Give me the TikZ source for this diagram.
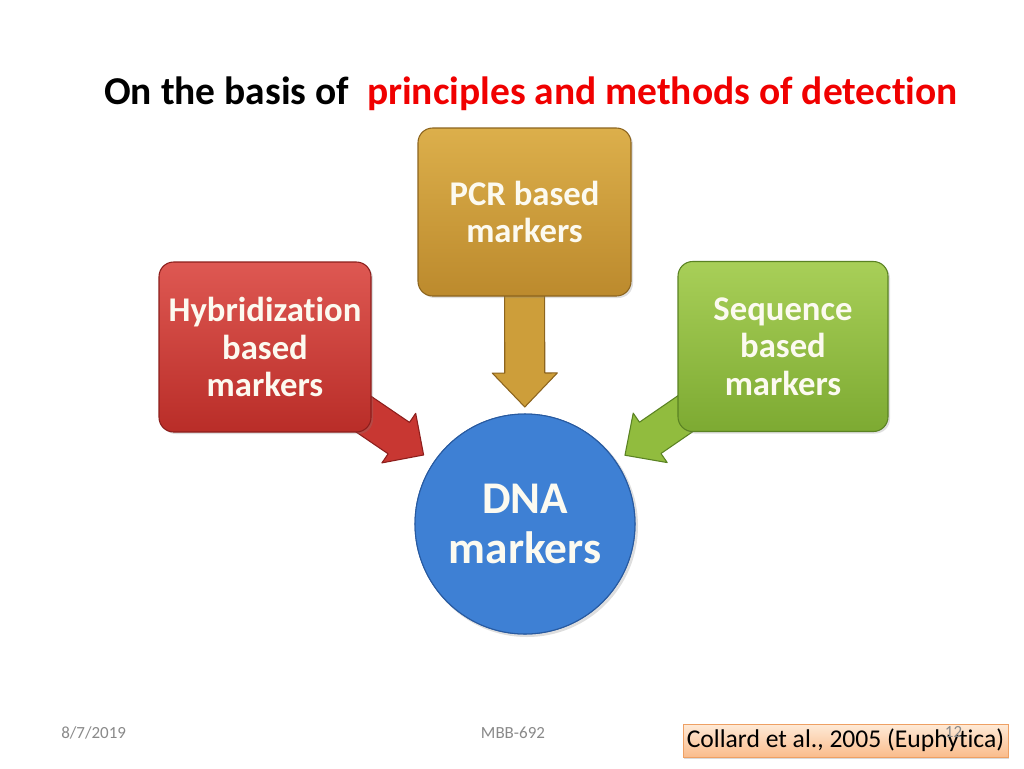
\documentclass[tikz,border=0pt]{standalone}
\usepackage{fontspec}
\setmainfont{Carlito}[Ligatures=NoCommon]
\usetikzlibrary{calc,backgrounds,shadows}
\definecolor{redT}{RGB}{222,88,82}
\definecolor{redB}{RGB}{185,45,40}
\definecolor{redD}{RGB}{140,30,28}
\definecolor{redA}{RGB}{200,55,50}
\definecolor{goldT}{RGB}{220,175,75}
\definecolor{goldB}{RGB}{188,138,45}
\definecolor{goldD}{RGB}{140,100,30}
\definecolor{goldA}{RGB}{205,158,58}
\definecolor{grnT}{RGB}{168,207,88}
\definecolor{grnB}{RGB}{125,170,50}
\definecolor{grnD}{RGB}{90,130,35}
\definecolor{grnA}{RGB}{145,188,62}
\definecolor{bluM}{RGB}{62,128,212}
\definecolor{bluD}{RGB}{40,90,160}
\definecolor{txtW}{RGB}{252,250,240}
\definecolor{footG}{RGB}{137,137,137}
\definecolor{citeT}{RGB}{254,234,215}
\definecolor{citeB}{RGB}{250,188,140}
\definecolor{citeD}{RGB}{238,160,100}
\definecolor{titleR}{RGB}{240,0,0}
\definecolor{shadowG}{RGB}{200,200,200}
% #1 start, #2 tip, #3 head-base name, #4 shaft half width, #5 head half width, #6 head length, #7 fill, #8 border
\newcommand\blockarr[8]{%
  \coordinate (#3) at ($(#2)!#6!(#1)$);
  \draw[fill=#7, draw=#8, line width=0.8pt, line join=round]
    ($(#1)!#4!90:(#2)$) -- ($(#3)!#4!90:(#2)$) -- ($(#3)!#5!90:(#2)$) -- (#2)
    -- ($(#3)!#5!-90:(#2)$) -- ($(#3)!#4!-90:(#2)$) -- ($(#1)!#4!-90:(#2)$) -- cycle;}
\tikzset{
  box/.style={rectangle, rounded corners=11pt, minimum width=159pt, minimum height=127.5pt,
    align=center, text=txtW, font=\fontsize{26}{28}\selectfont\bfseries, line width=0.8pt,
    inner sep=0pt, drop shadow={opacity=0.25, shadow xshift=1.5pt, shadow yshift=-1.5pt}},
  redbox/.style={box, top color=redT, bottom color=redB, draw=redD},
  goldbox/.style={box, top color=goldT, bottom color=goldB, draw=goldD},
  grnbox/.style={box, top color=grnT, bottom color=grnB, draw=grnD},
  dnacirc/.style={circle, minimum size=165pt, inner sep=0pt, align=center, text=txtW,
    fill=bluM, draw=bluD, line width=0.8pt,
    font=\fontsize{34}{37.5}\selectfont\bfseries},
  foot/.style={inner sep=0pt, text=footG, font=\fontsize{12.75}{14}\selectfont},
  cite/.style={rectangle, minimum width=243.75pt, minimum height=24.75pt, inner sep=0pt,
    top color=citeT, bottom color=citeB, draw=citeD, line width=0.5pt,
    font=\fontsize{19.2}{21}\selectfont, text=black,
    drop shadow={opacity=0.3, shadow xshift=1pt, shadow yshift=-1.5pt}}
}
\begin{document}
\begin{tikzpicture}[x=0.75pt,y=-0.75pt]
\useasboundingbox (0,0) rectangle (1024,768);
% title
\node[anchor=base west, inner sep=0pt, font=\fontsize{29.6}{31}\selectfont\bfseries] (title) at (104,104)
  {On the basis of\ \ \textcolor{titleR}{principles and methods of detection}};
% boxes and circle
\node[redbox] (hyb) at (265,347) {Hybridization\\based\\markers};
\node[goldbox, minimum height=126pt, minimum width=159.75pt] (pcr) at (524.5,212) {PCR based\\markers};
\node[grnbox, minimum width=157.5pt] (seq) at (783,346.5) {Sequence\\based\\markers};
\node[dnacirc] (dna) at (525,524) {DNA\\markers};
% arrows and circle shadow behind
\begin{pgfonlayer}{background}
  \fill[shadowG, opacity=0.6] ($(dna.center)+(2,2)$) circle[radius=111];
  \fill[bluD] (dna.center) circle[radius=110.5];
  \coordinate (tR) at ($(dna.center)!92pt!(hyb.center)$);
  \coordinate (tG) at ($(dna.center)!91pt!(seq.center)$);
  \coordinate (tP) at ($(dna.center)!87.75pt!(pcr.center)$);
  \blockarr{hyb.center}{tR}{hR}{14.25pt}{22.5pt}{22.5pt}{redA}{redD}
  \blockarr{seq.center}{tG}{hG}{14.25pt}{22.5pt}{23pt}{grnA}{grnD}
  \blockarr{pcr.center}{tP}{hP}{15pt}{24.4pt}{25.5pt}{goldA}{goldD}
\end{pgfonlayer}
% footer
\node[foot, anchor=base west] (date) at (61,738) {8/7/2019};
\node[foot, anchor=base] (code) at (513,738) {MBB-692};
\node[cite] (ref) at (845.5,740.5) {Collard et al., 2005 (Euphytica)};
\node[foot, anchor=base] (pg) at (953.5,737) {12};
\end{tikzpicture}
\end{document}
